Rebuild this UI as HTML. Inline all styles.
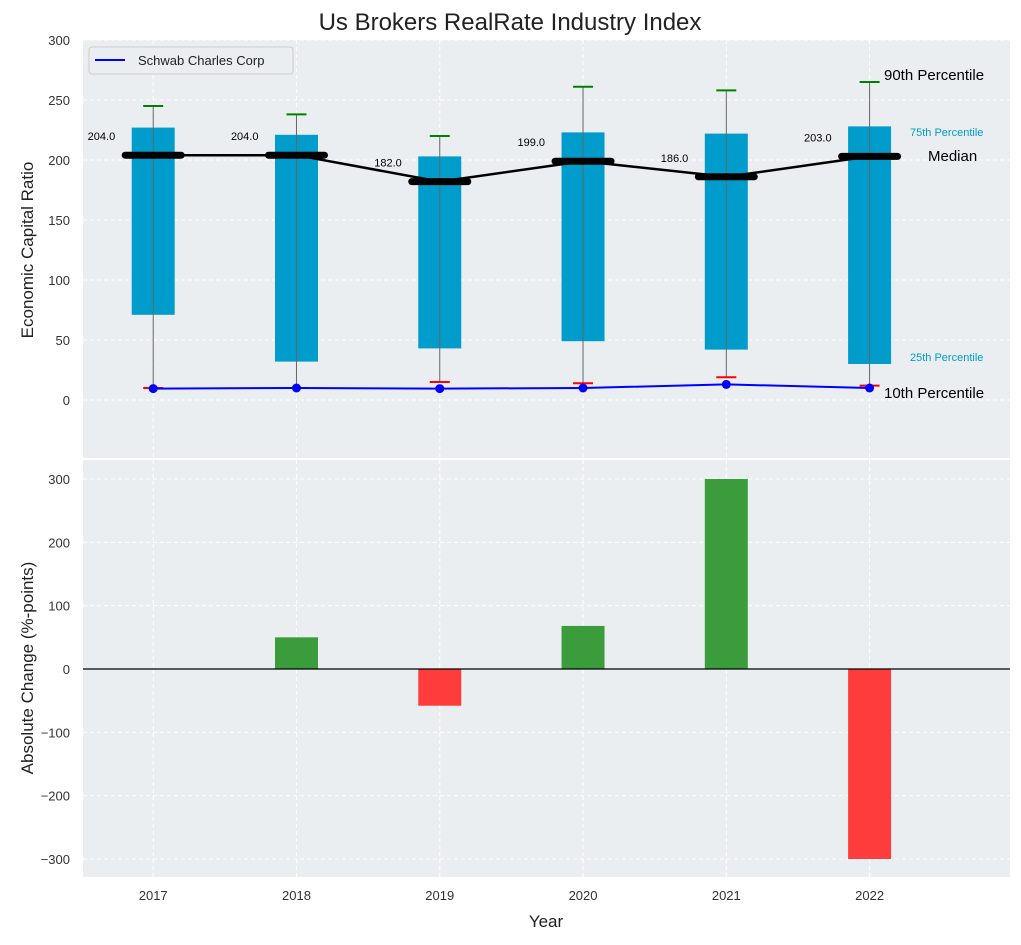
<!DOCTYPE html>
<html><head><meta charset="utf-8"><style>
body{margin:0;background:#fff;font-family:"Liberation Sans",sans-serif;}
svg text{font-family:"Liberation Sans",sans-serif;}
</style></head><body>
<svg id="c" width="1021" height="940" xmlns="http://www.w3.org/2000/svg"></svg>
<script>
const years=[2017,2018,2019,2020,2021,2022];
const p25=[71,32,43,49,42,30];
const p75=[227,221,203,223,222,228];
const p90=[245,238,220,261,258,265];
const p10=[10,10,15,14,19,12];
const medians=[204,204,182,199,186,203];
const company=[9.5,10,9.5,10,13,10];
const changes=[0,50,-58,68,300,-300];
const topTicks=[0,50,100,150,200,250,300];
const botTicks=[-300,-200,-100,0,100,200,300];

const NS="http://www.w3.org/2000/svg";
const svg=document.getElementById('c');
function el(t,a,txt){const e=document.createElementNS(NS,t);for(const k in a)e.setAttribute(k,a[k]);if(txt!==undefined)e.textContent=txt;svg.appendChild(e);return e;}
const L=83,R=1010;
const x=v=>L+(v-2016.51)/(2022.98-2016.51)*(R-L);
const T0=40,T1=458,B0=460,B1=877;
const yT=v=>400-(v)*1.2;
const yB=v=>669-v*(190/300);
const pxYear=x(2018)-x(2017);

let e=el('rect',{x:L,y:T0,width:R-L,height:T1-T0,fill:'#eaeef0'});

e=el('rect',{x:L,y:B0,width:R-L,height:B1-B0,fill:'#eaeef0'});


// grid
years.forEach(yr=>{
 el('line',{x1:x(yr),x2:x(yr),y1:T0,y2:T1,stroke:'#fff','stroke-dasharray':'4,3'});
 el('line',{x1:x(yr),x2:x(yr),y1:B0,y2:B1,stroke:'#fff','stroke-dasharray':'4,3'});
 e=el('text',{x:x(yr),y:900,'font-size':13,fill:'#333','text-anchor':'middle'},yr);
 
});
topTicks.forEach(t=>{
 el('line',{x1:L,x2:R,y1:yT(t),y2:yT(t),stroke:'#fff','stroke-dasharray':'4,3'});
 e=el('text',{x:70,y:yT(t)+5,'font-size':13,fill:'#333','text-anchor':'end'},t);
 
});
botTicks.forEach(t=>{
 el('line',{x1:L,x2:R,y1:yB(t),y2:yB(t),stroke:'#fff','stroke-dasharray':'4,3'});
 e=el('text',{x:70,y:yB(t)+5,'font-size':13,fill:'#333','text-anchor':'end'},String(t).replace('-','−'));
 
});

// boxes
const bw=pxYear*0.3;
years.forEach((yr,i)=>{
 const cx=x(yr);
 e=el('rect',{x:cx-bw/2,y:yT(p75[i]),width:bw,height:yT(p25[i])-yT(p75[i]),fill:'#009ccc'});
 
 e=el('line',{x1:cx,x2:cx,y1:yT(p90[i]),y2:yT(p10[i]),stroke:'#666','stroke-width':1});
 
 e=el('line',{x1:cx-10,x2:cx+10,y1:yT(p90[i]),y2:yT(p90[i]),stroke:'green','stroke-width':2});
 
 e=el('line',{x1:cx-10,x2:cx+10,y1:yT(p10[i]),y2:yT(p10[i]),stroke:'red','stroke-width':2});
 
});
// median line
e=el('polyline',{points:years.map((yr,i)=>x(yr)+','+yT(medians[i])).join(' '),fill:'none',stroke:'#000','stroke-width':2.5});

years.forEach((yr,i)=>{
 const cx=x(yr);
 e=el('line',{x1:cx-28,x2:cx+28,y1:yT(medians[i]),y2:yT(medians[i]),stroke:'#000','stroke-width':7,'stroke-linecap':'round'});
 
 e=el('text',{x:cx-38,y:yT(medians[i])-15,'font-size':11,fill:'#000','text-anchor':'end'},medians[i].toFixed(1));
 
});
// company
e=el('polyline',{points:years.map((yr,i)=>x(yr)+','+yT(company[i])).join(' '),fill:'none',stroke:'blue','stroke-width':2});

years.forEach((yr,i)=>{
 e=el('circle',{cx:x(yr),cy:yT(company[i]),r:4.5,fill:'blue'});
 
});
// right labels
e=el('text',{x:884,y:80,'font-size':15,fill:'#000'},'90th Percentile');
e=el('text',{x:910,y:136,'font-size':11,fill:'#009ccc'},'75th Percentile');
e=el('text',{x:928,y:161,'font-size':15,fill:'#000'},'Median');
e=el('text',{x:910,y:361,'font-size':11,fill:'#009ccc'},'25th Percentile');
e=el('text',{x:884,y:398,'font-size':15,fill:'#000'},'10th Percentile');

// legend
e=el('rect',{x:89,y:47,width:204,height:27,fill:'#eaeef0',stroke:'#ccc',rx:3});

el('line',{x1:95,x2:125,y1:60,y2:60,stroke:'blue','stroke-width':2});
e=el('text',{x:138,y:65,'font-size':13,fill:'#222'},'Schwab Charles Corp');


// bottom bars
years.forEach((yr,i)=>{
 const v=changes[i];if(v===0)return;
 e=el('rect',{x:x(yr)-bw/2,y:Math.min(yB(v),yB(0)),width:bw,height:Math.abs(yB(v)-yB(0)),fill:v>0?'#3a9c3a':'#ff3c3c'});
 
});
el('line',{x1:L,x2:R,y1:yB(0),y2:yB(0),stroke:'#000','stroke-width':1.2});

// titles
e=el('text',{x:510,y:30,'font-size':24,fill:'#222','text-anchor':'middle'},'Us Brokers RealRate Industry Index');

e=el('text',{x:546,y:927,'font-size':17,fill:'#222','text-anchor':'middle'},'Year');

e=el('text',{x:0,y:0,'font-size':17,fill:'#222','text-anchor':'middle',transform:'translate(33,250) rotate(-90)'},'Economic Capital Ratio');

e=el('text',{x:0,y:0,'font-size':17,fill:'#222','text-anchor':'middle',transform:'translate(33,668) rotate(-90)'},'Absolute Change (%-points)');

</script>
</body></html>
